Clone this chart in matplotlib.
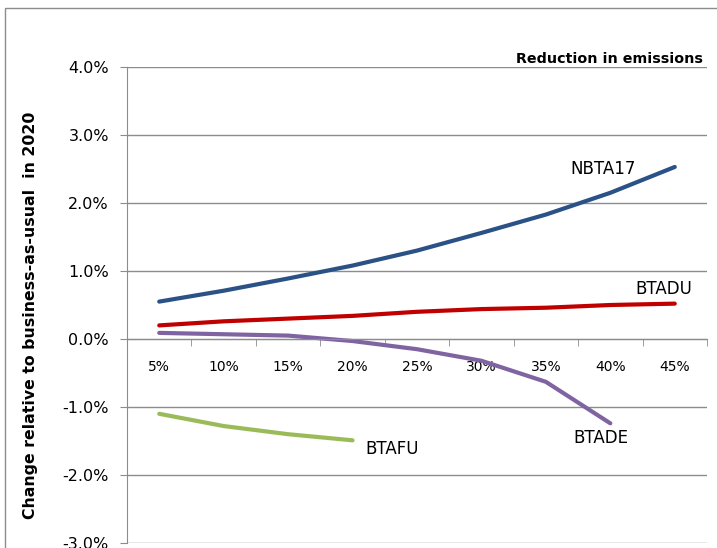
import numpy as np
import matplotlib.pyplot as plt
from matplotlib.patches import Rectangle

# Données (%)
categories = ['5%', '10%', '15%', '20%', '25%', '30%', '35%', '40%', '45%']
nbta17 = [0.55, 0.71, 0.89, 1.08, 1.30, 1.56, 1.83, 2.15, 2.53]
btadu = [0.20, 0.26, 0.30, 0.34, 0.40, 0.44, 0.46, 0.50, 0.52]
btade = [0.09, 0.07, 0.05, -0.03, -0.15, -0.32, -0.63, -1.24]
btafu = [-1.10, -1.28, -1.40, -1.49]
yticks = [-3, -2, -1, 0, 1, 2, 3, 4]

plt.rcParams['font.family'] = ['DejaVu Sans']

fig = plt.figure(figsize=(7.17, 5.48), dpi=100)
fig.patches.append(Rectangle((5 / 717, -0.1), 1.2, 1 - 8 / 548 + 0.1,
                             transform=fig.transFigure, fill=False,
                             edgecolor='#8c8c8c', linewidth=1))
ax = fig.add_axes([127 / 717, 5 / 548, 580 / 717, 476 / 548])

x = np.arange(len(categories))
lw = 3.0
ax.plot(x, nbta17, color='#2a5286', linewidth=lw, solid_capstyle='round')
ax.plot(x, btadu, color='#c00000', linewidth=lw, solid_capstyle='round')
ax.plot(x[:len(btade)], btade, color='#8064a2', linewidth=lw, solid_capstyle='round')
ax.plot(x[:len(btafu)], btafu, color='#9bbb59', linewidth=lw, solid_capstyle='round')

ax.text(6.88, 2.50, 'NBTA17', fontsize=12, ha='center', va='center')
ax.text(7.83, 0.73, 'BTADU', fontsize=12, ha='center', va='center')
ax.text(6.85, -1.45, 'BTADE', fontsize=12, ha='center', va='center')
ax.text(3.62, -1.62, 'BTAFU', fontsize=12, ha='center', va='center')

ax.set_xlim(-0.5, len(categories) - 0.5)
ax.set_ylim(-3, 4)
ax.set_yticks(yticks)
ax.set_yticklabels([f'{v:.1f}%' for v in yticks], fontsize=11.5)
ax.grid(axis='y', color='#8c8c8c', linewidth=1)
ax.set_axisbelow(True)

ax.set_xticks(x)
ax.set_xticklabels(categories, fontsize=11.5)
ax.set_xticks(np.arange(-0.5, len(categories)), minor=True)
ax.tick_params(axis='x', which='major', length=0, pad=15)
ax.tick_params(axis='x', which='minor', length=5, color='#8c8c8c', direction='out')
ax.tick_params(axis='y', length=5, color='#8c8c8c', pad=8)

for s in ['top', 'right']:
    ax.spines[s].set_visible(False)
ax.spines['bottom'].set_position(('data', 0))
ax.spines['bottom'].set_color('#8c8c8c')
ax.spines['left'].set_color('#8c8c8c')

fig.text(31 / 717, 1 - 315 / 548, 'Change relative to business-as-usual  in 2020',
         rotation=90, ha='center', va='center', fontsize=11.3, fontweight='bold')
fig.text(703 / 717, 1 - 63 / 548, 'Reduction in emissions',
         ha='right', va='baseline', fontsize=10.3, fontweight='bold')

fig.savefig('out.png', dpi=100)
